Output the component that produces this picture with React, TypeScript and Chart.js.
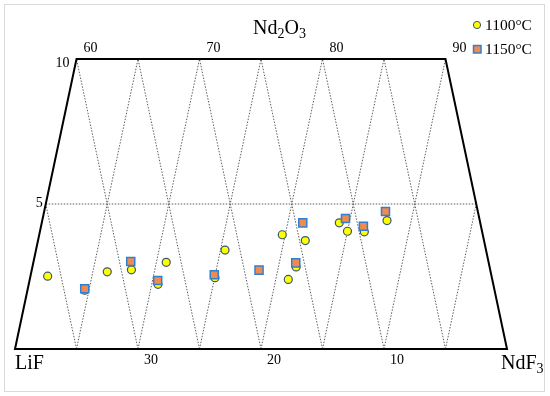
import { useEffect, useRef } from 'react';
import { Chart, registerables } from 'chart.js';

Chart.register(...registerables);

// Compositions (wt%)
const ndf3_1100 = [61.4, 64.65, 66.17, 68.1, 70.51, 70.8, 75.03, 75.37, 79.76, 81.02, 81.44, 81.73, 84.19, 85.0, 86.38, 88.03];
const nd2o3_1100 = [2.51, 2.03, 2.66, 2.73, 2.23, 2.99, 2.46, 3.41, 3.94, 2.4, 2.83, 3.74, 4.35, 4.06, 4.04, 4.43];
const ndf3_1150 = [64.63, 67.9, 70.42, 74.92, 78.48, 81.34, 81.22, 84.62, 86.21, 87.75];
const nd2o3_1150 = [2.08, 3.02, 2.36, 2.56, 2.72, 2.97, 4.35, 4.5, 4.23, 4.74];

const seriesNames = ['1100°C', '1150°C'];
const ndf3Ticks = [60, 70, 80, 90];
const lifTicks = [30, 20, 10];
const nd2o3Ticks = [10, 5];
const ndf3Lines = [65, 70, 75, 80, 85, 90, 95];
const lifLines = [5, 10, 15, 20, 25, 30, 35];

const SERIF = "'Liberation Serif', 'Times New Roman', serif";
const CIRCLE_FILL = '#FFFF00';
const CIRCLE_BORDER = '#3A5670';
const SQUARE_FILL = '#F08A4E';
const SQUARE_BORDER = '#2F80D2';

const toXY = (ndf3: number[], nd2o3: number[]) =>
  ndf3.map((v, i) => ({ x: v + nd2o3[i] / 2, y: nd2o3[i] }));

const ternaryPlugin = {
  id: 'ternary',
  beforeDatasetsDraw(chart: any) {
    const ctx = chart.ctx;
    const xs = chart.scales.x;
    const ys = chart.scales.y;
    const P = (ndf3: number, nd2o3: number) => [xs.getPixelForValue(ndf3 + nd2o3 / 2), ys.getPixelForValue(nd2o3)];
    const line = (a: number[], b: number[]) => {
      ctx.beginPath();
      ctx.moveTo(a[0], a[1]);
      ctx.lineTo(b[0], b[1]);
      ctx.stroke();
    };
    ctx.save();
    // frame border of image
    ctx.strokeStyle = '#D9D9D9';
    ctx.lineWidth = 1;
    ctx.strokeRect(4.5, 4.5, 540, 387);

    ctx.strokeStyle = '#5E5E5E';
    ctx.lineWidth = 1;
    ctx.setLineDash([1.5, 1.5]);
    ndf3Lines.forEach((v) => {
      const top = Math.min(10, 100 - v);
      line(P(v, 0), P(v, top));
    });
    lifLines.forEach((L) => {
      const top = Math.min(10, 40 - L);
      line(P(100 - L, 0), P(100 - L - top, top));
    });
    line(P(60, 5), P(95, 5));

    ctx.setLineDash([]);
    ctx.strokeStyle = '#000';
    ctx.lineWidth = 2;
    ctx.lineJoin = 'miter';
    ctx.beginPath();
    const a = P(60, 0), b = P(60, 10), c = P(90, 10), d = P(100, 0);
    ctx.moveTo(a[0], a[1]);
    ctx.lineTo(b[0], b[1]);
    ctx.lineTo(c[0], c[1]);
    ctx.lineTo(d[0], d[1]);
    ctx.closePath();
    ctx.stroke();
    ctx.restore();
  },
  afterDraw(chart: any) {
    const ctx = chart.ctx;
    const xs = chart.scales.x;
    const ys = chart.scales.y;
    const P = (ndf3: number, nd2o3: number) => [xs.getPixelForValue(ndf3 + nd2o3 / 2), ys.getPixelForValue(nd2o3)];
    ctx.save();
    ctx.fillStyle = '#000';
    ctx.font = `14px ${SERIF}`;
    ctx.textBaseline = 'middle';
    ctx.textAlign = 'center';
    ndf3Ticks.forEach((v) => {
      const p = P(v, 10);
      ctx.fillText(String(v), p[0] + 14, p[1] - 11);
    });
    lifTicks.forEach((L) => {
      const p = P(100 - L, 0);
      ctx.fillText(String(L), p[0] + 13, p[1] + 11);
    });
    ctx.textAlign = 'right';
    nd2o3Ticks.forEach((n) => {
      const p = P(60, n);
      ctx.fillText(String(n), p[0] - (n === 10 ? 7 : 3), p[1] + (n === 10 ? 4 : -1));
    });

    // Title Nd2O3
    ctx.textBaseline = 'alphabetic';
    ctx.textAlign = 'left';
    const big = `20px ${SERIF}`;
    const small = `14px ${SERIF}`;
    const drawSub = (parts: [string, boolean][], x: number, y: number) => {
      let cx = x;
      parts.forEach(([t, sub]) => {
        ctx.font = sub ? small : big;
        ctx.fillText(t, cx, sub ? y + 4 : y);
        cx += ctx.measureText(t).width;
      });
    };
    drawSub([['Nd', false], ['2', true], ['O', false], ['3', true]], 253, 34);
    drawSub([['LiF', false]], 15, 369);
    drawSub([['NdF', false], ['3', true]], 501, 369);

    // Legend
    ctx.font = `15.5px ${SERIF}`;
    ctx.textBaseline = 'middle';
    ctx.fillText(seriesNames[0], 485, 26);
    ctx.fillText(seriesNames[1], 485, 50);
    ctx.beginPath();
    ctx.arc(477, 25, 3.6, 0, Math.PI * 2);
    ctx.fillStyle = CIRCLE_FILL;
    ctx.fill();
    ctx.strokeStyle = CIRCLE_BORDER;
    ctx.lineWidth = 1;
    ctx.stroke();
    ctx.fillStyle = SQUARE_FILL;
    ctx.fillRect(473.5, 45.5, 7.5, 7.5);
    ctx.strokeStyle = SQUARE_BORDER;
    ctx.lineWidth = 1.5;
    ctx.strokeRect(473.5, 45.5, 7.5, 7.5);
    ctx.restore();
  },
};

export default function App() {
  const ref = useRef<HTMLCanvasElement | null>(null);
  useEffect(() => {
    if (!ref.current) return;
    const chart = new Chart(ref.current, {
      type: 'scatter',
      data: {
        datasets: [
          {
            label: seriesNames[0],
            data: toXY(ndf3_1100, nd2o3_1100),
            pointStyle: 'circle',
            pointRadius: 4,
            backgroundColor: CIRCLE_FILL,
            borderColor: CIRCLE_BORDER,
            borderWidth: 1.2,
            order: 2,
          },
          {
            label: seriesNames[1],
            data: toXY(ndf3_1150, nd2o3_1150),
            pointStyle: 'rect',
            pointRadius: 5.7,
            backgroundColor: SQUARE_FILL,
            borderColor: SQUARE_BORDER,
            borderWidth: 1.5,
            order: 1,
          },
        ],
      },
      options: {
        responsive: false,
        animation: false,
        events: [],
        layout: { padding: { left: 15, right: 43, top: 59, bottom: 47 } },
        scales: {
          x: { type: 'linear', min: 60, max: 100, display: false },
          y: { type: 'linear', min: 0, max: 10, display: false },
        },
        plugins: { legend: { display: false }, tooltip: { enabled: false } },
      },
      plugins: [ternaryPlugin],
    });
    return () => chart.destroy();
  }, []);
  return (
    <div style={{ position: 'absolute', left: 0, top: 0, width: 550, height: 396, background: '#fff' }}>
      <canvas ref={ref} width={550} height={396} />
    </div>
  );
}
